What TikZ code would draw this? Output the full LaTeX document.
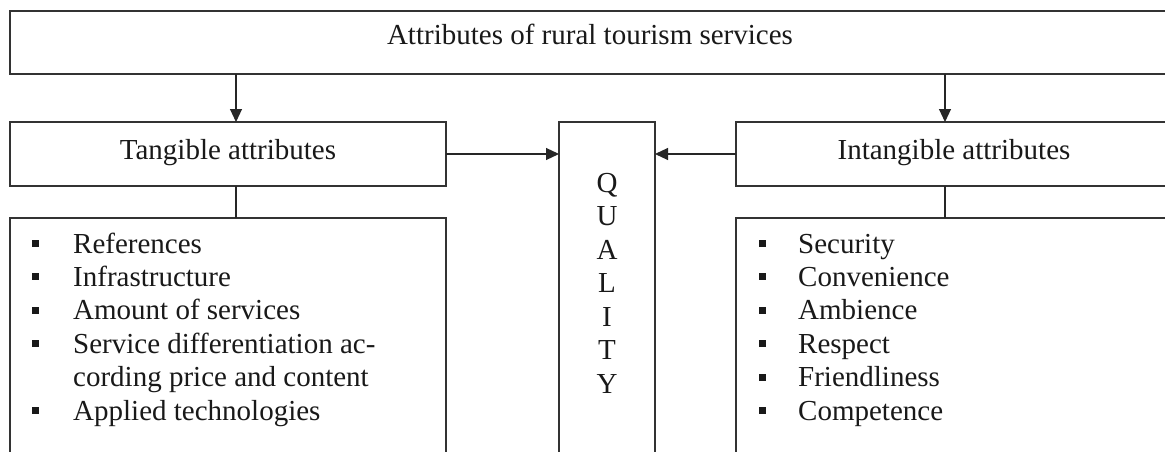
\documentclass[tikz,border=0pt]{standalone}
\usepackage{fontspec}
\setmainfont{Liberation Serif}
\usetikzlibrary{arrows.meta}
\begin{document}
\begin{tikzpicture}[x=1pt,y=-1pt,
  box/.style={draw=black!80, line width=1.2pt, inner sep=0pt, outer sep=0pt},
  conn/.style={draw=black!85, line width=1.1pt},
  arr/.style={conn, -{Triangle[length=13pt,width=12pt]}},
  txt/.style={font=\fontsize{29}{33.5}\selectfont, text=black!90, inner sep=0pt, anchor=base},
  itm/.style={txt, anchor=base west},
  bul/.style={fill=black!90, minimum size=7pt, inner sep=0pt}]
\useasboundingbox (0,0) rectangle (1165,452);
\fill[white] (0,0) rectangle (1165,452);
\clip (0,0) rectangle (1165,452);

% boxes
\node[box, minimum width=1160pt, minimum height=63pt] (top) at (590,42.5) {};
\node[box, minimum width=436pt, minimum height=64pt] (tang) at (228,154) {};
\node[box, minimum width=436pt, minimum height=64pt] (intang) at (954,154) {};
\node[box, minimum width=96pt, minimum height=348pt] (qual) at (607,296) {};
\node[box, minimum width=436pt, minimum height=252pt] (tlbox) at (228,344) {};
\node[box, minimum width=436pt, minimum height=252pt] (ilbox) at (954,344) {};

% titles
\node[txt] (toptext) at ([yshift=-34pt]top.north) {Attributes of rural tourism services};
\node[txt] (tangtext) at ([yshift=-37pt]tang.north) {Tangible attributes};
\node[txt] (intangtext) at ([yshift=-37pt]intang.north) {Intangible attributes};

% QUALITY
\foreach \c [count=\i from 0] in {Q,U,A,L,I,T,Y}
  \node[txt] (q\i) at (607,{192+33.5*\i}) {\c};

% left list
\foreach \t [count=\i from 0] in {References,Infrastructure,Amount of services,Service differentiation ac-,cording price and content,Applied technologies}
  \node[itm] (tl\i) at (73,{253+33.4*\i}) {\t};
\foreach \i in {0,1,2,3,5}
  \node[bul] (tb\i) at (35,{243.5+33.4*\i}) {};

% right list
\foreach \t [count=\i from 0] in {Security,Convenience,Ambience,Respect,Friendliness,Competence}
  \node[itm] (il\i) at (798,{253+33.4*\i}) {\t};
\foreach \i in {0,...,5}
  \node[bul] (ib\i) at (762,{243.5+33.4*\i}) {};

% connectors
\coordinate (ax1) at (236,0);
\coordinate (ax2) at (945,0);
\draw[arr] (top.south -| ax1) -- (tang.north -| ax1);
\draw[arr] (top.south -| ax2) -- (intang.north -| ax2);
\draw[conn] (tang.south -| ax1) -- (tlbox.north -| ax1);
\draw[conn] (intang.south -| ax2) -- (ilbox.north -| ax2);
\draw[arr] (tang.east) -- (tang.east -| qual.west);
\draw[arr] (intang.west) -- (intang.west -| qual.east);
\end{tikzpicture}
\end{document}
